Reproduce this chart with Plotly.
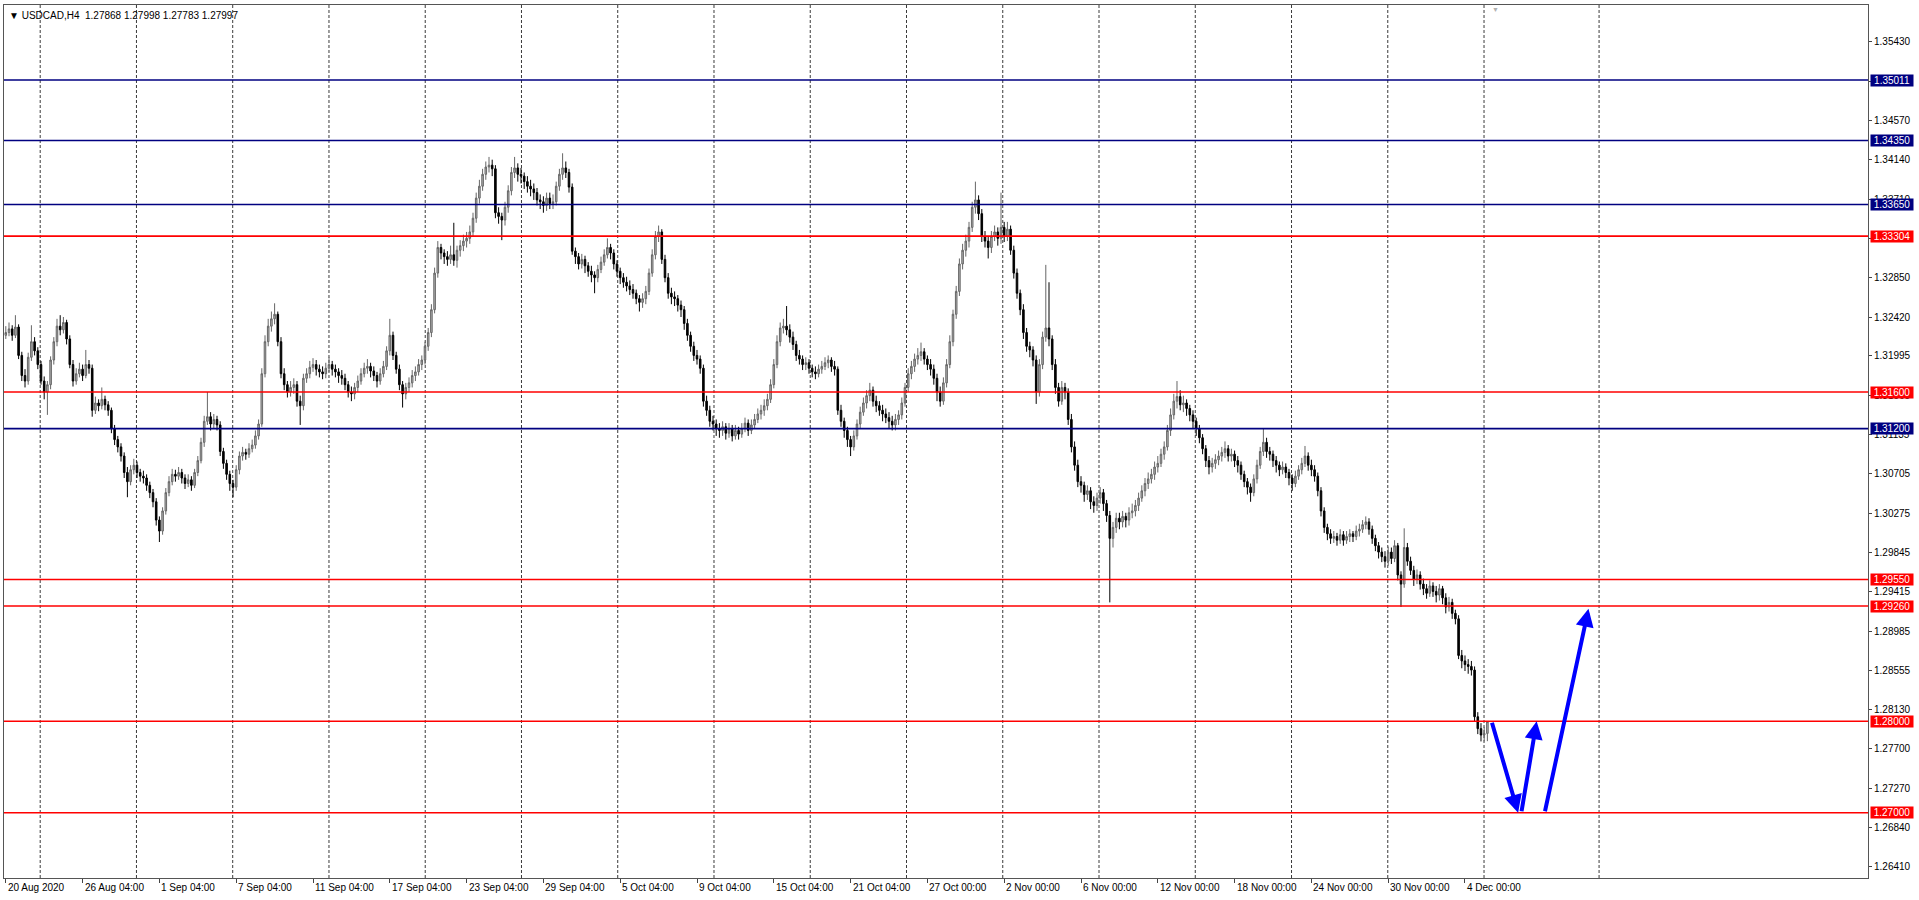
import plotly.graph_objects as go

# ---------------- data (prices in pips: 3225 -> 1.3225) ----------------
first_open = 3222
close_pips = [
3225,3229,3222,3231,3200,3178,3172,3198,3215,3205,
3190,3172,3160,3168,3195,3215,3232,3228,3236,3218,
3190,3172,3180,3185,3178,3190,3186,3140,3148,3145,
3152,3146,3140,3120,3108,3100,3090,3072,3062,3075,
3080,3072,3068,3066,3058,3050,3040,3020,3008,3030,
3050,3062,3070,3068,3072,3066,3060,3064,3058,3072,
3085,3105,3128,3133,3125,3130,3124,3095,3082,3070,
3060,3056,3075,3090,3094,3092,3098,3102,3112,3125,
3180,3215,3232,3240,3245,3215,3180,3168,3160,3165,
3168,3150,3145,3175,3180,3187,3190,3185,3182,3180,
3186,3190,3185,3182,3178,3175,3168,3160,3158,3165,
3172,3180,3186,3188,3183,3178,3172,3180,3188,3205,
3222,3200,3185,3168,3158,3165,3170,3178,3182,3190,
3195,3210,3225,3250,3290,3318,3312,3308,3305,3310,
3304,3315,3320,3325,3328,3335,3350,3372,3385,3398,
3406,3408,3404,3356,3352,3348,3362,3380,3400,3405,
3398,3396,3390,3385,3382,3378,3370,3368,3364,3372,
3366,3368,3385,3398,3405,3400,3384,3314,3308,3300,
3305,3298,3292,3288,3285,3294,3302,3310,3318,3312,
3300,3292,3285,3280,3276,3272,3268,3262,3258,3262,
3270,3290,3310,3330,3335,3305,3285,3268,3264,3262,
3255,3250,3235,3222,3210,3200,3196,3186,3150,3140,
3128,3125,3120,3118,3122,3115,3120,3112,3118,3114,
3120,3126,3118,3124,3130,3136,3140,3145,3152,3168,
3190,3215,3230,3232,3228,3220,3212,3200,3196,3190,
3192,3186,3182,3180,3185,3188,3192,3195,3188,3185,
3140,3128,3118,3108,3100,3112,3125,3138,3148,3156,
3162,3150,3145,3140,3136,3132,3128,3124,3130,3135,
3148,3165,3180,3188,3196,3200,3204,3196,3190,3185,
3175,3160,3150,3170,3190,3215,3245,3270,3300,3315,
3325,3340,3362,3370,3355,3330,3325,3318,3330,3335,
3328,3340,3330,3338,3315,3290,3268,3250,3225,3210,
3206,3195,3160,3190,3220,3230,3218,3190,3165,3150,
3165,3160,3130,3100,3080,3062,3058,3048,3052,3040,
3036,3044,3050,3038,3025,3000,3012,3022,3018,3024,
3020,3028,3030,3036,3044,3052,3060,3065,3070,3078,
3082,3092,3100,3118,3135,3150,3155,3146,3148,3142,
3135,3128,3120,3110,3098,3085,3078,3082,3086,3090,
3094,3098,3090,3092,3085,3080,3070,3062,3056,3050,
3065,3080,3095,3105,3095,3092,3085,3080,3075,3078,
3072,3066,3060,3068,3075,3082,3090,3080,3075,3068,
3052,3030,3012,3005,3000,3002,2998,3004,2998,3002,
3005,3002,3008,3010,3015,3018,3010,3000,2992,2985,
2980,2975,2985,2978,2992,2960,2950,2990,2975,2965,
2955,2960,2950,2945,2940,2948,2942,2938,2945,2935,
2925,2930,2918,2912,2872,2866,2862,2860,2856,2805,
2792,2785,2786.8,2799.7]

high_pips = [
3232,3236,3233,3244,3234,3204,3185,3203,3233,3220,
3209,3194,3177,3172,3199,3220,3240,3244,3242,3239,
3222,3195,3186,3192,3190,3206,3195,3190,3155,3152,
3165,3156,3150,3143,3124,3112,3104,3094,3078,3080,
3087,3084,3076,3074,3070,3062,3054,3044,3024,3034,
3055,3068,3076,3075,3078,3076,3070,3070,3068,3076,
3090,3110,3134,3160,3138,3136,3134,3128,3099,3086,
3074,3064,3080,3095,3100,3098,3104,3108,3118,3130,
3186,3222,3240,3248,3257,3248,3220,3186,3172,3172,
3175,3172,3156,3180,3186,3194,3197,3195,3190,3188,
3192,3198,3194,3190,3186,3184,3180,3172,3166,3170,
3178,3186,3192,3196,3192,3188,3182,3186,3194,3210,
3240,3226,3204,3190,3172,3170,3176,3184,3188,3196,
3200,3215,3230,3256,3296,3325,3322,3316,3314,3320,
3345,3320,3326,3332,3335,3342,3356,3378,3392,3404,
3412,3417,3414,3408,3362,3356,3368,3386,3406,3417,
3410,3405,3400,3396,3392,3388,3383,3376,3374,3378,
3378,3376,3390,3404,3421,3412,3404,3388,3318,3312,
3311,3309,3302,3298,3292,3299,3308,3316,3328,3322,
3316,3304,3296,3290,3286,3282,3278,3272,3266,3268,
3276,3295,3316,3336,3342,3338,3310,3290,3274,3270,
3266,3260,3254,3240,3226,3215,3206,3200,3190,3156,
3145,3134,3130,3126,3128,3126,3126,3124,3124,3122,
3126,3132,3130,3130,3136,3142,3146,3152,3158,3174,
3196,3222,3236,3240,3254,3234,3226,3216,3206,3200,
3198,3196,3190,3188,3190,3194,3198,3200,3198,3194,
3188,3146,3132,3122,3112,3118,3130,3144,3154,3162,
3170,3166,3156,3150,3146,3142,3138,3134,3136,3140,
3154,3170,3186,3194,3202,3208,3214,3208,3200,3196,
3190,3180,3166,3176,3196,3222,3250,3276,3306,3322,
3332,3346,3368,3390,3375,3360,3336,3330,3336,3342,
3340,3378,3346,3346,3342,3320,3295,3272,3256,3230,
3215,3210,3200,3196,3226,3299,3280,3222,3196,3170,
3172,3170,3164,3136,3106,3086,3068,3062,3058,3056,
3046,3050,3056,3054,3042,3030,3018,3028,3028,3030,
3028,3034,3038,3042,3050,3058,3066,3072,3076,3084,
3090,3098,3106,3124,3142,3158,3172,3162,3156,3152,
3146,3140,3132,3124,3114,3102,3090,3088,3092,3096,
3100,3106,3102,3098,3096,3090,3084,3074,3066,3060,
3070,3086,3100,3120,3110,3100,3096,3090,3084,3084,
3082,3076,3070,3074,3080,3088,3101,3094,3086,3080,
3072,3056,3034,3016,3010,3008,3006,3010,3008,3008,
3010,3008,3014,3016,3020,3024,3022,3014,3004,2996,
2990,2986,2991,2990,2998,2995,2964,3011,2995,2980,
2970,2966,2964,2956,2950,2954,2952,2948,2950,2948,
2940,2936,2934,2922,2916,2878,2872,2868,2866,2860,
2810,2798,2794,2799.8]

low_pips = [
3218,3221,3216,3219,3196,3172,3165,3168,3194,3200,
3185,3168,3152,3135,3163,3190,3210,3222,3224,3212,
3186,3166,3168,3176,3172,3175,3180,3133,3136,3139,
3141,3140,3134,3115,3102,3094,3084,3066,3045,3058,
3070,3066,3062,3060,3052,3044,3034,3014,2996,3004,
3026,3046,3058,3062,3064,3060,3054,3056,3052,3055,
3068,3082,3100,3124,3118,3120,3118,3090,3076,3064,
3052,3045,3052,3070,3085,3086,3088,3094,3098,3108,
3122,3176,3210,3226,3234,3210,3175,3162,3154,3155,
3158,3144,3124,3140,3170,3175,3182,3178,3176,3174,
3175,3182,3178,3176,3170,3168,3162,3154,3150,3152,
3160,3168,3176,3180,3176,3172,3165,3168,3176,3184,
3200,3195,3180,3162,3143,3152,3160,3165,3172,3178,
3184,3190,3205,3220,3246,3285,3305,3300,3298,3300,
3298,3296,3308,3314,3318,3322,3330,3345,3366,3380,
3392,3400,3396,3350,3344,3326,3342,3356,3375,3394,
3390,3388,3382,3378,3374,3370,3364,3360,3356,3358,
3360,3360,3364,3380,3392,3394,3378,3310,3300,3294,
3295,3290,3286,3280,3268,3280,3290,3298,3306,3305,
3294,3286,3278,3274,3270,3266,3262,3256,3248,3252,
3256,3266,3286,3305,3324,3300,3280,3262,3256,3254,
3248,3242,3228,3216,3204,3194,3190,3180,3144,3134,
3122,3118,3112,3110,3112,3108,3110,3106,3108,3108,
3110,3116,3112,3114,3120,3126,3130,3134,3140,3148,
3164,3186,3210,3224,3222,3214,3206,3194,3190,3184,
3184,3180,3176,3174,3176,3180,3184,3186,3182,3178,
3135,3122,3110,3100,3090,3096,3108,3120,3134,3142,
3150,3144,3138,3134,3128,3126,3120,3118,3118,3124,
3130,3144,3160,3174,3182,3190,3194,3190,3184,3178,
3168,3150,3144,3146,3165,3186,3210,3240,3265,3294,
3308,3318,3335,3355,3348,3324,3318,3306,3312,3325,
3320,3322,3324,3325,3310,3284,3262,3244,3218,3204,
3198,3188,3147,3155,3185,3215,3210,3184,3158,3144,
3146,3152,3124,3094,3074,3056,3050,3040,3042,3032,
3028,3030,3038,3030,3018,2930,2990,3006,3010,3012,
3012,3014,3022,3024,3030,3040,3046,3054,3060,3064,
3072,3078,3086,3096,3112,3130,3142,3140,3138,3134,
3128,3120,3112,3104,3092,3078,3070,3072,3076,3080,
3084,3088,3084,3084,3078,3072,3064,3056,3048,3040,
3046,3060,3076,3090,3088,3085,3078,3072,3068,3070,
3066,3058,3052,3056,3064,3070,3078,3074,3068,3062,
3046,3024,3006,2998,2994,2995,2992,2994,2992,2994,
2996,2996,2998,3002,3006,3010,3004,2994,2986,2978,
2974,2968,2970,2972,2974,2954,2925,2946,2970,2960,
2948,2950,2944,2938,2934,2936,2936,2930,2932,2928,
2918,2920,2912,2906,2868,2858,2855,2852,2850,2800,
2786,2778,2778,2778.3]

x_tick_bars = [0, 24, 48, 72, 96, 120, 144, 168, 192, 216,
               240, 264, 288, 312, 336, 360, 384, 408, 432, 456]
x_tick_labels = ["20 Aug 2020", "26 Aug 04:00", "1 Sep 04:00", "7 Sep 04:00",
                 "11 Sep 04:00", "17 Sep 04:00", "23 Sep 04:00", "29 Sep 04:00",
                 "5 Oct 04:00", "9 Oct 04:00", "15 Oct 04:00", "21 Oct 04:00",
                 "27 Oct 00:00", "2 Nov 00:00", "6 Nov 00:00", "12 Nov 00:00",
                 "18 Nov 00:00", "24 Nov 00:00", "30 Nov 00:00", "4 Dec 00:00"]
grid_bars = [10.75, 40.83, 70.91, 100.99, 131.07, 161.15, 191.23, 221.31,
             251.39, 281.47, 311.55, 341.63, 371.71, 401.79, 431.87, 461.95, 497.9]

y_tick_values = [1.35430, 1.35000, 1.34570, 1.34140, 1.33710, 1.33280, 1.32850,
                 1.32420, 1.31995, 1.31565, 1.31135, 1.30705, 1.30275, 1.29845,
                 1.29415, 1.28985, 1.28555, 1.28130, 1.27700, 1.27270, 1.26840,
                 1.26410]

level_prices = [1.35011, 1.34350, 1.33650, 1.33304, 1.31600, 1.31200,
                1.29550, 1.29260, 1.28000, 1.27000]
level_colors = ["#000080", "#000080", "#000080", "#FF0000", "#FF0000", "#000080",
                "#FF0000", "#FF0000", "#FF0000", "#FF0000"]

# drawn arrows: (tail bar, tail price, tip bar, tip price)
arrows = [(464.3, 1.2800, 472.6, 1.2700),
          (473.6, 1.2700, 478.4, 1.2800),
          (480.9, 1.2700, 494.6, 1.2923)]

header = "▼ USDCAD,H4\u00a0\u00a01.27868 1.27998 1.27783 1.27997"
shift_marker_bar = 465.5

# ---------------- build ----------------
n = len(close_pips)
bars = list(range(n))
closes = [1 + v / 10000 for v in close_pips]
highs = [1 + v / 10000 for v in high_pips]
lows = [1 + v / 10000 for v in low_pips]
opens = [1 + first_open / 10000] + closes[:-1]

FONT = "Liberation Sans, Arial, sans-serif"

fig = go.Figure()
fig.add_trace(go.Candlestick(
    x=bars, open=opens, high=highs, low=lows, close=closes,
    increasing=dict(line=dict(color="#666666", width=1), fillcolor="#b4b4b4"),
    decreasing=dict(line=dict(color="#000000", width=1), fillcolor="#000000"),
    whiskerwidth=0, hoverinfo="skip", showlegend=False))

shapes = []
for g in grid_bars:
    shapes.append(dict(type="line", xref="x", yref="paper", x0=g, x1=g, y0=0, y1=1,
                       line=dict(color="#3a3a3a", width=1, dash="3px,2px"), layer="below"))
for p, c in zip(level_prices, level_colors):
    shapes.append(dict(type="line", xref="paper", yref="y", x0=0, x1=1, y0=p, y1=p,
                       line=dict(color=c, width=1.6)))

annotations = []
for p, c in zip(level_prices, level_colors):
    annotations.append(dict(xref="paper", yref="y", x=1, y=p, xanchor="left", yanchor="middle",
                            xshift=2, text=f"{p:.5f}", showarrow=False,
                            font=dict(family=FONT, size=10, color="white"),
                            bgcolor=c, width=42, height=11, borderpad=0, align="center"))
for b, t in zip(x_tick_bars, x_tick_labels):
    annotations.append(dict(xref="x", yref="paper", x=b, y=0, xanchor="left", yanchor="top",
                            yshift=-2, xshift=0, text=t, showarrow=False,
                            font=dict(family=FONT, size=10, color="#000000")))
for tx, ty, hx, hy in arrows:
    annotations.append(dict(xref="x", yref="y", x=hx, y=hy, axref="x", ayref="y", ax=tx, ay=ty,
                            text="", showarrow=True, arrowhead=2, arrowsize=0.9, arrowwidth=4,
                            arrowcolor="#0000FF", standoff=0, startstandoff=0))
annotations.append(dict(xref="paper", yref="paper", x=0, y=1, xanchor="left", yanchor="top",
                        xshift=3, yshift=-3, text=header, showarrow=False,
                        font=dict(family=FONT, size=10, color="#000000")))
annotations.append(dict(xref="x", yref="paper", x=shift_marker_bar, y=1, xanchor="center",
                        yanchor="top", yshift=1, text="▼", showarrow=False,
                        font=dict(family=FONT, size=7, color="#b0b0b0")))

fig.update_layout(
    width=1919, height=900,
    margin=dict(l=4, r=51, t=5, b=22, pad=0),
    paper_bgcolor="white", plot_bgcolor="white",
    showlegend=False,
    shapes=shapes, annotations=annotations,
    xaxis=dict(range=[-0.5625, 581.94], rangeslider=dict(visible=False),
               showgrid=False, zeroline=False, tickmode="array", tickvals=x_tick_bars,
               ticktext=[""] * len(x_tick_bars), ticks="outside", ticklen=4,
               tickcolor="#444", showline=True, mirror=True, linecolor="#555",
               linewidth=1, fixedrange=True),
    yaxis=dict(range=[1.26287, 1.35831], side="right", showgrid=False, zeroline=False,
               tickmode="array", tickvals=y_tick_values,
               ticktext=[f"{v:.5f}" for v in y_tick_values],
               ticks="outside", ticklen=3, tickcolor="#444",
               tickfont=dict(family=FONT, size=10, color="#000000"),
               showline=True, mirror=True, linecolor="#555", linewidth=1, fixedrange=True),
)

fig.write_html("out.html", config={"displayModeBar": False},
               post_script="document.body.style.margin='0';document.body.style.overflow='hidden';")
